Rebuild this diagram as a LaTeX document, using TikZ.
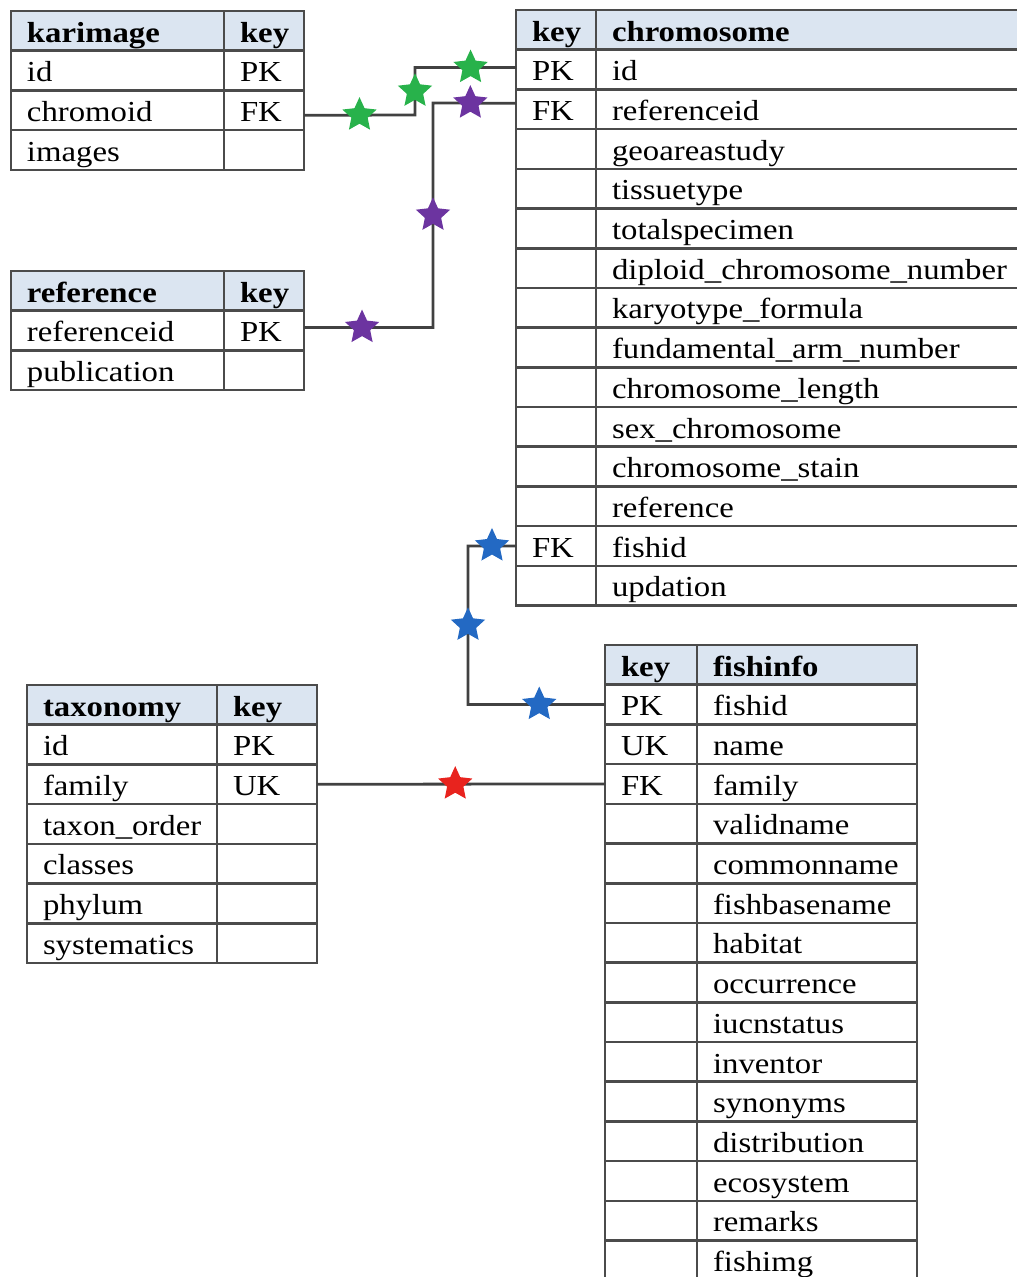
\documentclass[tikz,border=0pt]{standalone}
\usepackage{fontspec}
\setmainfont[FakeStretch=1.13]{Liberation Serif}
\usetikzlibrary{positioning,shapes.geometric}
\hyphenpenalty=10000

\definecolor{tabline}{RGB}{75,75,75}
\definecolor{headfill}{RGB}{219,229,241}
\definecolor{linkgray}{RGB}{65,65,65}
\definecolor{stargreen}{RGB}{40,178,75}
\definecolor{starpurple}{RGB}{108,52,160}
\definecolor{starblue}{RGB}{35,105,195}
\definecolor{starred}{RGB}{232,35,30}

\newcommand{\tabfont}{\fontsize{29pt}{34pt}\selectfont}

\tikzset{
  cell/.style={draw=tabline, line width=2.6pt, anchor=north west, outer sep=0pt,
    inner xsep=16pt, inner ysep=0pt, minimum height=39.7pt,
    text width=#1, align=left, text height=26pt, text depth=3.7pt, font=\tabfont},
  head/.style={cell=#1, fill=headfill, font=\tabfont\bfseries},
  link/.style={draw=linkgray, line width=2.8pt},
  fkstar/.style={star, star points=5, star point ratio=2.1, minimum size=36pt,
    inner sep=0pt, fill=#1}
}

\begin{document}
\begin{tikzpicture}[x=1pt, y=-1pt]
\useasboundingbox (0,0) rectangle (1017,1277);

% ── Table karimage (top left) ───────────────────────────────────
\node[head=181pt] (kar-name) at (11,11) {karimage};
\node[head=48pt, right=0pt of kar-name] (kar-key) {key};
\node[cell=181pt, below=0pt of kar-name] (kar-id) {id};
\node[cell=48pt, right=0pt of kar-id] (kar-pk) {PK};
\node[cell=181pt, below=0pt of kar-id] (kar-chromoid) {chromoid};
\node[cell=48pt, right=0pt of kar-chromoid] (kar-fk) {FK};
\node[cell=181pt, below=0pt of kar-chromoid] (kar-images) {images};
\node[cell=48pt, right=0pt of kar-images] (kar-k3) {};

% ── Table reference ─────────────────────────────────────────────
\node[head=181pt] (ref-name) at (11,271) {reference};
\node[head=48pt, right=0pt of ref-name] (ref-key) {key};
\node[cell=181pt, below=0pt of ref-name] (ref-refid) {referenceid};
\node[cell=48pt, right=0pt of ref-refid] (ref-pk) {PK};
\node[cell=181pt, below=0pt of ref-refid] (ref-pub) {publication};
\node[cell=48pt, right=0pt of ref-pub] (ref-k2) {};

% ── Table chromosome (key column first, runs off the right edge) ─
\node[head=48pt] (chr-key) at (516,10) {key};
\node[head=398pt, right=0pt of chr-key] (chr-name) {chromosome};
\node[cell=48pt, below=0pt of chr-key] (chr-pk) {PK};
\node[cell=398pt, right=0pt of chr-pk] (chr-id) {id};
\node[cell=48pt, below=0pt of chr-pk] (chr-fk) {FK};
\node[cell=398pt, right=0pt of chr-fk] (chr-refid) {referenceid};
\node[cell=48pt, below=0pt of chr-fk] (chr-k3) {};
\node[cell=398pt, right=0pt of chr-k3] (chr-geo) {geoareastudy};
\node[cell=48pt, below=0pt of chr-k3] (chr-k4) {};
\node[cell=398pt, right=0pt of chr-k4] (chr-tissue) {tissuetype};
\node[cell=48pt, below=0pt of chr-k4] (chr-k5) {};
\node[cell=398pt, right=0pt of chr-k5] (chr-total) {totalspecimen};
\node[cell=48pt, below=0pt of chr-k5] (chr-k6) {};
\node[cell=398pt, right=0pt of chr-k6] (chr-diploid) {diploid\_chromosome\_number};
\node[cell=48pt, below=0pt of chr-k6] (chr-k7) {};
\node[cell=398pt, right=0pt of chr-k7] (chr-karyo) {karyotype\_formula};
\node[cell=48pt, below=0pt of chr-k7] (chr-k8) {};
\node[cell=398pt, right=0pt of chr-k8] (chr-arm) {fundamental\_arm\_number};
\node[cell=48pt, below=0pt of chr-k8] (chr-k9) {};
\node[cell=398pt, right=0pt of chr-k9] (chr-length) {chromosome\_length};
\node[cell=48pt, below=0pt of chr-k9] (chr-k10) {};
\node[cell=398pt, right=0pt of chr-k10] (chr-sex) {sex\_chromosome};
\node[cell=48pt, below=0pt of chr-k10] (chr-k11) {};
\node[cell=398pt, right=0pt of chr-k11] (chr-stain) {chromosome\_stain};
\node[cell=48pt, below=0pt of chr-k11] (chr-k12) {};
\node[cell=398pt, right=0pt of chr-k12] (chr-ref) {reference};
\node[cell=48pt, below=0pt of chr-k12] (chr-fk2) {FK};
\node[cell=398pt, right=0pt of chr-fk2] (chr-fishid) {fishid};
\node[cell=48pt, below=0pt of chr-fk2] (chr-k14) {};
\node[cell=398pt, right=0pt of chr-k14] (chr-upd) {updation};

% ── Table fishinfo (key column first, runs off the bottom) ───────
\node[head=60pt] (fis-key) at (605,645) {key};
\node[head=188pt, right=0pt of fis-key] (fis-name) {fishinfo};
\node[cell=60pt, below=0pt of fis-key] (fis-pk) {PK};
\node[cell=188pt, right=0pt of fis-pk] (fis-fishid) {fishid};
\node[cell=60pt, below=0pt of fis-pk] (fis-uk) {UK};
\node[cell=188pt, right=0pt of fis-uk] (fis-nm) {name};
\node[cell=60pt, below=0pt of fis-uk] (fis-fk) {FK};
\node[cell=188pt, right=0pt of fis-fk] (fis-family) {family};
\node[cell=60pt, below=0pt of fis-fk] (fis-k4) {};
\node[cell=188pt, right=0pt of fis-k4] (fis-valid) {validname};
\node[cell=60pt, below=0pt of fis-k4] (fis-k5) {};
\node[cell=188pt, right=0pt of fis-k5] (fis-common) {commonname};
\node[cell=60pt, below=0pt of fis-k5] (fis-k6) {};
\node[cell=188pt, right=0pt of fis-k6] (fis-base) {fishbasename};
\node[cell=60pt, below=0pt of fis-k6] (fis-k7) {};
\node[cell=188pt, right=0pt of fis-k7] (fis-habitat) {habitat};
\node[cell=60pt, below=0pt of fis-k7] (fis-k8) {};
\node[cell=188pt, right=0pt of fis-k8] (fis-occ) {occurrence};
\node[cell=60pt, below=0pt of fis-k8] (fis-k9) {};
\node[cell=188pt, right=0pt of fis-k9] (fis-iucn) {iucnstatus};
\node[cell=60pt, below=0pt of fis-k9] (fis-k10) {};
\node[cell=188pt, right=0pt of fis-k10] (fis-inv) {inventor};
\node[cell=60pt, below=0pt of fis-k10] (fis-k11) {};
\node[cell=188pt, right=0pt of fis-k11] (fis-syn) {synonyms};
\node[cell=60pt, below=0pt of fis-k11] (fis-k12) {};
\node[cell=188pt, right=0pt of fis-k12] (fis-dist) {distribution};
\node[cell=60pt, below=0pt of fis-k12] (fis-k13) {};
\node[cell=188pt, right=0pt of fis-k13] (fis-eco) {ecosystem};
\node[cell=60pt, below=0pt of fis-k13] (fis-k14) {};
\node[cell=188pt, right=0pt of fis-k14] (fis-rem) {remarks};
\node[cell=60pt, below=0pt of fis-k14] (fis-k15) {};
\node[cell=188pt, right=0pt of fis-k15] (fis-img) {fishimg};

% ── Table taxonomy ──────────────────────────────────────────────
\node[head=158pt] (tax-name) at (27,685) {taxonomy};
\node[head=68pt, right=0pt of tax-name] (tax-key) {key};
\node[cell=158pt, below=0pt of tax-name] (tax-id) {id};
\node[cell=68pt, right=0pt of tax-id] (tax-pk) {PK};
\node[cell=158pt, below=0pt of tax-id] (tax-family) {family};
\node[cell=68pt, right=0pt of tax-family] (tax-uk) {UK};
\node[cell=158pt, below=0pt of tax-family] (tax-order) {taxon\_order};
\node[cell=68pt, right=0pt of tax-order] (tax-k3) {};
\node[cell=158pt, below=0pt of tax-order] (tax-classes) {classes};
\node[cell=68pt, right=0pt of tax-classes] (tax-k4) {};
\node[cell=158pt, below=0pt of tax-classes] (tax-phylum) {phylum};
\node[cell=68pt, right=0pt of tax-phylum] (tax-k5) {};
\node[cell=158pt, below=0pt of tax-phylum] (tax-syst) {systematics};
\node[cell=68pt, right=0pt of tax-syst] (tax-k6) {};

% ── Links (stars sit on each leg) ───────────────────────────────
% karimage.chromoid -> chromosome.id
\coordinate (g-low)  at (415,115);
\coordinate (g-high) at (415,67.5);
\draw[link] ([yshift=-5pt]kar-fk.east)
  -- node[fkstar=stargreen] (g-s1) {} (g-low)
  -- node[fkstar=stargreen] (g-s2) {} (g-high)
  -- node[fkstar=stargreen, pos=0.55] (g-s3) {} ([yshift=2pt]chr-pk.west);
% reference.referenceid -> chromosome.referenceid
\coordinate (p-low)  at (433,327.5);
\coordinate (p-high) at (433,103);
\draw[link] ([yshift=3pt]ref-pk.east)
  -- node[fkstar=starpurple, pos=0.45] (p-s1) {} (p-low)
  -- node[fkstar=starpurple] (p-s2) {} (p-high)
  -- node[fkstar=starpurple, pos=0.45] (p-s3) {} ([yshift=6pt]chr-fk.west);
% chromosome.fishid -> fishinfo.fishid
\coordinate (b-up)   at (468,546);
\coordinate (b-down) at (468,704.5);
\draw[link] (chr-fk2.west)
  -- node[fkstar=starblue] (b-s1) {} (b-up)
  -- node[fkstar=starblue] (b-s2) {} (b-down)
  -- node[fkstar=starblue, pos=0.52] (b-s3) {} (fis-pk.west);
% taxonomy.family -> fishinfo.family
\draw[link] (tax-uk.east)
  -- node[fkstar=starred, pos=0.48] (r-s1) {} (fis-fk.west);

\end{tikzpicture}
\end{document}
